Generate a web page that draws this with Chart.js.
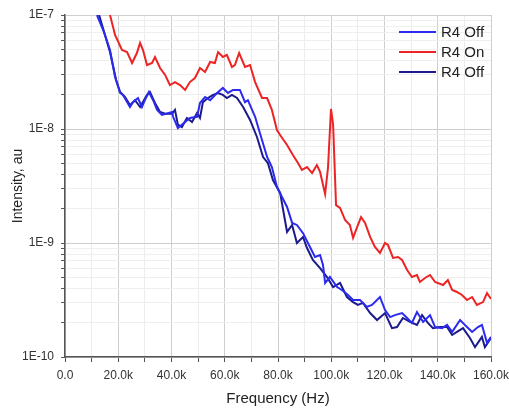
<!DOCTYPE html>
<html>
<head>
<meta charset="utf-8">
<script src="https://cdn.jsdelivr.net/npm/chart.js@4"></script>
<style>
  html, body { margin: 0; padding: 0; background: #fff; }
  #wrap { width: 509px; height: 410px; }
</style>
</head>
<body>
<div id="wrap"><canvas id="spectrumChart" width="509" height="410"></canvas></div>
<script>
// Frequency in kHz, intensity in a.u.
const offAFreq = [12.0,14.6,16.9,18.8,20.7,21.8,24.4,25.5,27.4,28.9,30.0,31.5,33.1,34.6,36.4,40.2,40.6,42.4,45.1,46.9,49.6,50.7,52.6,54.5,57.1,59.3,61.2,63.1,65.7,67.6,68.7,71.4,73.2,75.9,77.7,79.6,81.5,83.4,85.3,87.1,89.4,92.0,93.9,95.8,96.9,97.7,99.5,102.2,104.0,106.3,108.2,110.8,113.4,115.3,118.3,120.2,122.1,123.9,126.6,128.5,130.3,132.2,134.5,137.1,139.0,141.6,143.5,145.4,148.4,151.0,152.9,155.1,156.6,158.5,160.0];
const offAValues = [1.0e-7,7.1e-8,4.93e-8,2.86e-8,2.07e-8,1.99e-8,1.56e-8,1.72e-8,1.87e-8,1.56e-8,1.79e-8,2.11e-8,1.79e-8,1.47e-8,1.33e-8,1.41e-8,1.28e-8,1.02e-8,1.15e-8,1.25e-8,1.28e-8,1.69e-8,1.91e-8,1.79e-8,2.07e-8,2.29e-8,2.07e-8,2.20e-8,2.20e-8,1.72e-8,1.79e-8,1.28e-8,9.23e-9,5.68e-9,4.64e-9,3.10e-9,2.53e-9,2.07e-9,1.50e-9,1.44e-9,1.22e-9,9.23e-10,7.54e-10,7.85e-10,6.41e-10,4.46e-10,5.03e-10,4.11e-10,3.87e-10,3.50e-10,3.16e-10,3.16e-10,2.75e-10,2.86e-10,3.36e-10,2.58e-10,2.24e-10,2.33e-10,2.43e-10,2.20e-10,1.99e-10,2.48e-10,2.03e-10,2.33e-10,1.83e-10,1.79e-10,1.91e-10,1.66e-10,2.11e-10,1.83e-10,1.66e-10,1.83e-10,1.91e-10,1.33e-10,1.50e-10];

const onFreq = [16.9,18.8,21.4,23.3,25.2,27.0,28.2,29.3,30.8,32.7,33.8,35.7,37.6,39.4,41.3,43.2,45.1,46.9,48.8,50.7,52.6,54.5,56.3,57.5,59.3,60.8,62.7,63.8,65.4,67.6,69.5,71.4,74.0,75.9,77.7,79.6,80.8,83.4,85.6,87.5,89.0,90.9,92.8,94.6,95.8,97.7,98.8,99.9,100.7,101.8,103.3,105.2,107.0,108.2,109.7,111.2,112.7,114.6,116.4,118.3,120.2,121.3,123.2,125.1,126.6,128.5,130.3,132.2,133.3,135.2,137.1,139.0,142.0,143.8,145.4,147.2,149.1,151.0,152.9,154.7,157.0,158.5,160.0];
const onValues = [1.0e-7,6.68e-8,4.93e-8,4.73e-8,3.79e-8,4.64e-8,5.68e-8,4.93e-8,3.64e-8,3.79e-8,4.28e-8,3.43e-8,2.98e-8,2.43e-8,2.58e-8,2.43e-8,2.20e-8,2.58e-8,2.80e-8,3.43e-8,3.16e-8,3.87e-8,3.79e-8,4.73e-8,4.28e-8,4.46e-8,3.50e-8,3.64e-8,4.64e-8,3.50e-8,3.64e-8,2.58e-8,1.87e-8,1.87e-8,1.47e-8,9.80e-9,8.86e-9,7.24e-9,5.92e-9,5.03e-9,4.37e-9,4.64e-9,4.11e-9,4.83e-9,4.20e-9,2.69e-9,4.64e-9,1.50e-8,1.09e-8,2.15e-9,2.03e-9,1.59e-9,1.44e-9,1.11e-9,1.38e-9,1.69e-9,1.50e-9,1.13e-9,9.23e-10,8.17e-10,1.0e-9,9.6e-10,7.39e-10,7.54e-10,7.09e-10,5.80e-10,5.03e-10,5.24e-10,4.55e-10,4.93e-10,5.24e-10,4.55e-10,4.28e-10,4.73e-10,3.87e-10,3.72e-10,3.50e-10,3.16e-10,3.36e-10,2.86e-10,3.03e-10,3.64e-10,3.23e-10];

const offBFreq = [12.8,16.9,19.2,20.7,22.5,24.4,26.3,28.2,30.8,31.9,33.8,35.7,37.6,40.2,41.3,42.4,43.9,45.8,47.7,49.6,50.7,51.8,53.7,55.6,57.5,59.3,60.8,62.7,64.6,66.9,69.5,72.1,74.4,76.2,78.1,80.8,82.6,83.4,85.3,87.1,89.4,90.9,93.1,95.8,98.4,100.7,103.3,105.9,108.2,110.0,111.9,114.6,117.2,120.2,122.8,124.7,126.9,129.6,132.2,134.1,136.3,138.2,140.8,143.5,145.4,147.2,149.5,152.1,154.0,156.6,157.7,160.0];
const offBValues = [1.0e-7,4.73e-8,2.69e-8,2.11e-8,1.91e-8,1.62e-8,1.79e-8,1.56e-8,1.99e-8,2.11e-8,1.69e-8,1.41e-8,1.36e-8,1.36e-8,1.47e-8,1.09e-8,1.04e-8,1.25e-8,1.15e-8,1.38e-8,1.25e-8,1.72e-8,1.87e-8,1.99e-8,2.07e-8,1.99e-8,1.87e-8,1.99e-8,1.87e-8,1.56e-8,1.20e-8,8.51e-9,5.68e-9,5.03e-9,3.57e-9,2.75e-9,1.59e-9,1.25e-9,1.44e-9,1.0e-9,1.13e-9,9.04e-10,7.09e-10,6.03e-10,5.03e-10,4.11e-10,4.46e-10,3.36e-10,3.03e-10,2.86e-10,2.98e-10,2.43e-10,2.11e-10,2.43e-10,1.79e-10,1.83e-10,2.20e-10,2.03e-10,1.91e-10,2.33e-10,1.99e-10,1.79e-10,1.83e-10,1.83e-10,1.56e-10,1.66e-10,1.79e-10,1.47e-10,1.22e-10,1.50e-10,1.22e-10,1.47e-10];

const seriesLabels = ['R4 Off', 'R4 On', 'R4 Off'];
const xTickValues = [0, 20, 40, 60, 80, 100, 120, 140, 160];
const yTickValues = [1e-10, 1e-9, 1e-8, 1e-7];

function toPoints(xs, ys) {
    const pts = [];
    for (let i = 0; i < Math.min(xs.length, ys.length); i++) {
        pts.push({ x: xs[i], y: ys[i] });
    }
    return pts;
}

function isDecade(v) {
    return yTickValues.some(d => Math.abs(v / d - 1) < 1e-6);
}

// Legend drawn inside the plot, top right
const insideLegend = {
    id: 'insideLegend',
    afterDraw(chart) {
        const c = chart.ctx;
        c.save();
        c.font = '15px "Liberation Sans", Arial, sans-serif';
        c.textBaseline = 'middle';
        chart.data.datasets.forEach((ds, i) => {
            const y = 32 + i * 20;
            c.strokeStyle = ds.borderColor;
            c.lineWidth = 2;
            c.beginPath();
            c.moveTo(399, y);
            c.lineTo(436, y);
            c.stroke();
            c.fillStyle = '#222';
            c.fillText(ds.label, 441, y + 1);
        });
        c.restore();
    }
};

const ctx = document.getElementById('spectrumChart').getContext('2d');
const chart = new Chart(ctx, {
    type: 'line',
    data: {
        datasets: [
            {
                label: seriesLabels[0],
                data: toPoints(offAFreq, offAValues),
                borderColor: '#2b2bf0',
                borderWidth: 2
            },
            {
                label: seriesLabels[1],
                data: toPoints(onFreq, onValues),
                borderColor: '#ec2424',
                borderWidth: 2
            },
            {
                label: seriesLabels[2],
                data: toPoints(offBFreq, offBValues),
                borderColor: '#1b1b8c',
                borderWidth: 2
            }
        ]
    },
    options: {
        responsive: false,
        animation: false,
        layout: { padding: { top: 15, right: 18, left: 0, bottom: 0 } },
        elements: { point: { radius: 0 }, line: { tension: 0 } },
        plugins: {
            legend: { display: false },
            tooltip: { enabled: false }
        },
        scales: {
            x: {
                type: 'linear',
                min: 0,
                max: 160,
                afterBuildTicks: function(scale) {
                    const t = [];
                    for (let v = 0; v <= 160; v += 10) t.push({ value: v });
                    scale.ticks = t;
                },
                afterFit: function(scale) {
                    scale.height = 53;
                    scale.paddingRight = 0;
                    scale.paddingLeft = 0;
                },
                ticks: {
                    autoSkip: false,
                    maxRotation: 0,
                    padding: 6,
                    color: '#333',
                    font: { family: '"Liberation Sans", Arial, sans-serif', size: 12 },
                    callback: function(value) {
                        if (xTickValues.indexOf(value) < 0) return '';
                        return value === 0 ? '0.0' : value.toFixed(1) + 'k';
                    }
                },
                grid: {
                    drawOnChartArea: true,
                    color: function(c) {
                        return (c.tick && c.tick.value % 20 === 0) ? '#cecece' : '#ececec';
                    },
                    tickColor: '#555',
                    tickLength: 5
                },
                border: { display: true, color: '#555', width: 1.5 },
                title: {
                    display: true,
                    text: 'Frequency (Hz)',
                    color: '#222',
                    font: { family: '"Liberation Sans", Arial, sans-serif', size: 15 },
                    padding: { top: 4, bottom: 2 }
                }
            },
            y: {
                type: 'logarithmic',
                min: 1e-10,
                max: 1e-7,
                afterBuildTicks: function(scale) {
                    const t = [];
                    for (let e = -10; e < -7; e++) {
                        for (let m = 1; m <= 9; m++) t.push({ value: m * Math.pow(10, e) });
                    }
                    t.push({ value: 1e-7 });
                    scale.ticks = t;
                },
                afterFit: function(scale) {
                    scale.width = 65;
                    scale.paddingTop = 0;
                    scale.paddingBottom = 0;
                },
                ticks: {
                    autoSkip: false,
                    padding: 7,
                    color: '#333',
                    font: { family: '"Liberation Sans", Arial, sans-serif', size: 12 },
                    callback: function(value) {
                        if (!isDecade(value)) return '';
                        return '1E' + Math.round(Math.log10(value));
                    }
                },
                grid: {
                    color: function(c) {
                        return (c.tick && isDecade(c.tick.value)) ? '#cecece' : '#efefef';
                    },
                    tickColor: '#555',
                    tickLength: 4
                },
                border: { display: true, color: '#555', width: 1.5 },
                title: {
                    display: true,
                    text: 'Intensity, au',
                    color: '#222',
                    font: { family: '"Liberation Sans", Arial, sans-serif', size: 14 },
                    padding: { top: 10, bottom: 0 }
                }
            }
        }
    },
    plugins: [insideLegend]
});
</script>
</body>
</html>
